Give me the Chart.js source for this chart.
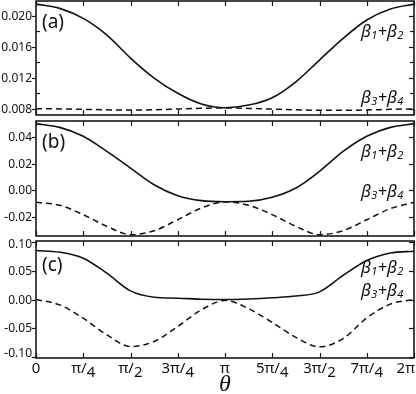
<!DOCTYPE html>
<html>
<head>
<meta charset="utf-8">
<script src="https://cdn.jsdelivr.net/npm/chart.js@4.4.1/dist/chart.umd.min.js"></script>
<style>
  html, body { margin: 0; padding: 0; background: #fff; }
  #wrap { position: relative; width: 416px; height: 394px; }
  #wrap canvas { position: absolute; left: 0; }
</style>
</head>
<body>
<div id="wrap">
  <canvas id="panelA" width="416" height="119" style="top:0px"></canvas>
  <canvas id="panelB" width="416" height="120" style="top:119px"></canvas>
  <canvas id="panelC" width="416" height="164" style="top:230px"></canvas>
</div>
<script>
// === Data (theta in units of pi) ===
const theta = [0, 0.125, 0.25, 0.375, 0.5, 0.625, 0.75, 0.875, 1,
               1.125, 1.25, 1.375, 1.5, 1.625, 1.75, 1.875, 2];

const solidA = [0.0215, 0.02095, 0.01966, 0.01751, 0.01454, 0.01196, 0.00999, 0.00861, 0.00813,
                0.00847, 0.00942, 0.01148, 0.01428, 0.01708, 0.01945, 0.02086, 0.0215];
const dashA  = [0.0080, 0.00798, 0.00792, 0.00786, 0.00782, 0.00786, 0.00796, 0.00806, 0.0081,
                0.00804, 0.00795, 0.00786, 0.0078, 0.0078, 0.00784, 0.00792, 0.00798];

const solidB = [0.0503, 0.0475, 0.0408, 0.0294, 0.0168, 0.0042, -0.0041, -0.0078, -0.0086,
                -0.0083, -0.0053, 0.0017, 0.0143, 0.0294, 0.0408, 0.0475, 0.0503];
const dashB  = [-0.0091, -0.0113, -0.0184, -0.0272, -0.0335, -0.0305, -0.0222, -0.0134, -0.0088,
                -0.0113, -0.0184, -0.0272, -0.0335, -0.0305, -0.0222, -0.0138, -0.0091];

const solidC = [0.0853, 0.0824, 0.072, 0.0458, 0.015, 0.004, 0.0023, 0.0005, 0.0,
                0.001, 0.003, 0.006, 0.0133, 0.042, 0.068, 0.081, 0.084];
const dashC  = [0.0, -0.0094, -0.0326, -0.0617, -0.0819, -0.0732, -0.047, -0.018, -0.0017,
                -0.016, -0.040, -0.066, -0.0825, -0.068, -0.032, -0.008, 0.0];

const xTicks = [0, 0.25, 0.5, 0.75, 1, 1.25, 1.5, 1.75, 2];
const xTickLabels = ['0', 'π/4', 'π/2', '3π/4', 'π', '5π/4', '3π/2', '7π/4', '2π'];

const yTicksA = [0.008, 0.012, 0.016, 0.020];
const yMinorA = [0.010, 0.014, 0.018];
const yTicksB = [-0.02, 0.00, 0.02, 0.04];
const yTicksC = [-0.10, -0.05, 0.00, 0.05, 0.10];

const FONT = '"Noto Sans", "DejaVu Sans", sans-serif';

// === Plugin: frame, inward ticks, labels ===
const framePlugin = {
  id: 'frame',
  afterDraw(chart, args, o) {
    const { ctx, chartArea: a } = chart;
    const x = chart.scales.x, y = chart.scales.y;
    const line = (x1, y1, x2, y2) => { ctx.beginPath(); ctx.moveTo(x1, y1); ctx.lineTo(x2, y2); ctx.stroke(); };
    ctx.save();
    ctx.strokeStyle = '#1a1a1a';
    ctx.lineWidth = 1.6;
    ctx.strokeRect(a.left, a.top, a.right - a.left, a.bottom - a.top);

    ctx.lineWidth = 1.2;
    xTicks.forEach(v => {
      const px = Math.round(x.getPixelForValue(v)) + 0.5;
      line(px, a.top, px, a.top + 5);
      line(px, a.bottom, px, a.bottom - 5);
    });

    ctx.fillStyle = '#111';
    ctx.font = '12px ' + FONT;
    ctx.textAlign = 'right';
    ctx.textBaseline = 'middle';
    o.yTicks.forEach(v => {
      const py = Math.round(y.getPixelForValue(v)) + 0.5;
      line(a.left - 4, py, a.left, py);
      line(a.right, py, a.right - 5, py);
      const txt = Math.abs(v) < 1e-9 ? (0).toFixed(o.dec) : v.toFixed(o.dec);
      const ly = Math.min(Math.max(py, a.top + 4), a.bottom - 4);
      ctx.fillText(txt, a.left - 4, ly);
    });
    (o.yMinor || []).forEach(v => {
      const py = Math.round(y.getPixelForValue(v)) + 0.5;
      line(a.left, py, a.left + 4, py);
      line(a.right, py, a.right - 4, py);
    });

    // panel tag
    ctx.textAlign = 'left';
    ctx.font = '19px ' + FONT;
    ctx.fillText(o.tag, a.left + 6, a.top + o.tagDy);

    // beta labels
    const beta = (i, j, yy) => {
      let cx = a.right - 53;
      const parts = [['β', 17, 0], [String(i), 11, 4], ['+', 16, 0], ['β', 17, 0], [String(j), 11, 4]];
      parts.forEach(([t, s, dy]) => {
        ctx.font = 'italic ' + s + 'px ' + FONT;
        ctx.fillText(t, cx, yy + dy);
        cx += ctx.measureText(t).width + (t === '+' ? 0 : 0.5);
      });
    };
    beta(1, 2, a.top + o.b12);
    beta(3, 4, a.top + o.b34);

    // x labels (bottom panel only)
    if (o.showX) {
      ctx.textBaseline = 'alphabetic';
      xTicks.forEach((v, k) => {
        const lab = xTickLabels[k];
        const px = x.getPixelForValue(v);
        const base = a.bottom + 15;
        ctx.font = '15px ' + FONT;
        if (lab.includes('/')) {
          const [num, den] = lab.split('/');
          const w1 = ctx.measureText(num + '/').width;
          const w2 = ctx.measureText(den).width;
          let sx = px - (w1 + w2) / 2;
          ctx.textAlign = 'left';
          ctx.fillText(num + '/', sx, base);
          ctx.fillText(den, sx + w1, base + 4);
        } else {
          ctx.textAlign = 'center';
          let tx = px;
          if (k === xTicks.length - 1) tx = Math.min(px, chart.width - ctx.measureText(lab).width / 2 - 1);
          ctx.fillText(lab, tx, base);
        }
      });
      ctx.textAlign = 'center';
      ctx.font = 'italic 24px "Liberation Serif", "DejaVu Serif", serif';
      ctx.fillText('θ', (a.left + a.right) / 2, a.bottom + 33);
    }
    ctx.restore();
  }
};

// === Panel factory ===
function makePanel(canvasId, solid, dashed, yMin, yMax, pad, frameOpts) {
  const ctx = document.getElementById(canvasId).getContext('2d');
  const pts = arr => arr.map((v, i) => ({ x: theta[i], y: v }));
  return new Chart(ctx, {
    type: 'line',
    data: { datasets: [
      { data: pts(solid), borderColor: '#111', borderWidth: 1.6,
        pointRadius: 0, cubicInterpolationMode: 'monotone', fill: false },
      { data: pts(dashed), borderColor: '#111', borderWidth: 1.5, borderDash: [6, 4],
        pointRadius: 0, cubicInterpolationMode: 'monotone', fill: false }
    ]},
    options: {
      responsive: false, animation: false, devicePixelRatio: 1,
      layout: { padding: pad },
      plugins: { legend: { display: false }, tooltip: { enabled: false }, frame: frameOpts },
      scales: {
        x: { type: 'linear', min: 0, max: 2, display: false },
        y: { min: yMin, max: yMax, display: false }
      }
    },
    plugins: [framePlugin]
  });
}

const chartA = makePanel('panelA', solidA, dashA, 0.00719, 0.0219,
  { left: 36, right: 2, top: 1, bottom: 4 },
  { yTicks: yTicksA, yMinor: yMinorA, dec: 3, tag: '(a)', tagDy: 22, b12: 31, b34: 97, showX: false });

const chartB = makePanel('panelB', solidB, dashB, -0.0345, 0.0523,
  { left: 36, right: 2, top: 2, bottom: 3 },
  { yTicks: yTicksB, dec: 2, tag: '(b)', tagDy: 22, b12: 31, b34: 71, showX: false });

const chartC = makePanel('panelC', solidC, dashC, -0.1019, 0.1019,
  { left: 36, right: 2, top: 11, bottom: 36 },
  { yTicks: yTicksC, dec: 2, tag: '(c)', tagDy: 25, b12: 27, b34: 50, showX: true });
</script>
</body>
</html>
